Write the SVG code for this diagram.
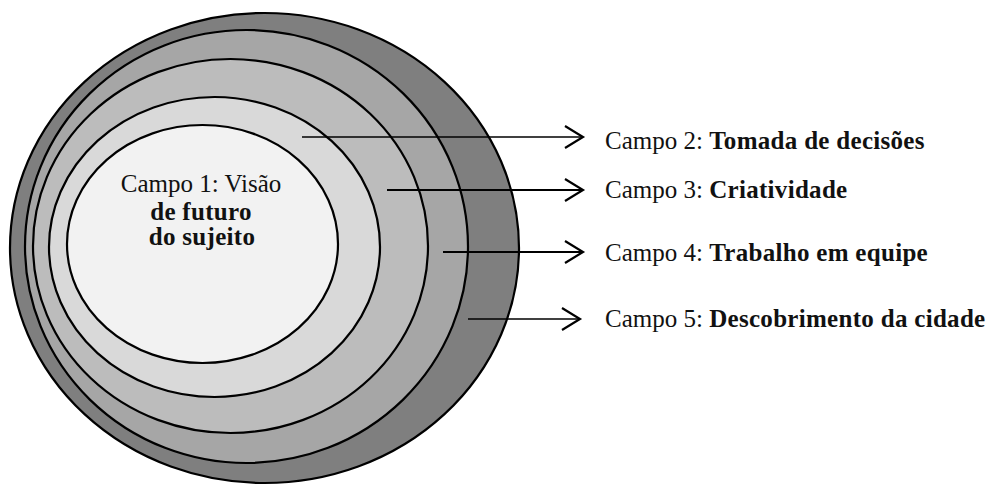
<svg xmlns="http://www.w3.org/2000/svg" width="987" height="488" viewBox="0 0 987 488">
<defs>
<style>
.ring{stroke:#000;stroke-width:2.2}
.lbl{font-family:"Liberation Serif","Times New Roman",serif;font-size:25px;fill:#111}
.b{font-weight:bold;letter-spacing:0.3px}
.conn{stroke:#000;fill:none}
</style>
<marker id="arr" markerUnits="userSpaceOnUse" markerWidth="24" markerHeight="28" refX="19" refY="12" orient="auto">
<path d="M1,1 L19,12 L1,23" fill="none" stroke="#000" stroke-width="2.2"/>
</marker>
</defs>
<rect width="987" height="488" fill="#fff"/>
<g id="campo5">
<ellipse class="ring" cx="264.5" cy="248" rx="254.5" ry="235" fill="#7f7f7f"/>
</g>
<g id="campo4">
<ellipse class="ring" cx="246.5" cy="246.5" rx="221.5" ry="216.5" fill="#a6a6a6"/>
</g>
<g id="campo3">
<ellipse class="ring" cx="230.5" cy="246" rx="197.5" ry="187" fill="#bcbcbc"/>
</g>
<g id="campo2">
<ellipse class="ring" cx="214.5" cy="247" rx="165.5" ry="150" fill="#d9d9d9"/>
</g>
<g id="campo1">
<ellipse class="ring" cx="202.5" cy="244" rx="135.5" ry="119" fill="#f2f2f2"/>
<text class="lbl" x="201" y="192" text-anchor="middle">Campo 1: Visão</text>
<text class="lbl b" x="201" y="220" text-anchor="middle">de futuro</text>
<text class="lbl b" x="202" y="245" text-anchor="middle">do sujeito</text>
</g>
<g id="connectors">
<line class="conn" x1="302" y1="137" x2="583" y2="137" stroke-width="1.6" marker-end="url(#arr)"/>
<line class="conn" x1="387" y1="190" x2="583" y2="190" stroke-width="2" marker-end="url(#arr)"/>
<line class="conn" x1="443" y1="252" x2="583" y2="252" stroke-width="2" marker-end="url(#arr)"/>
<line class="conn" x1="468" y1="319" x2="580" y2="319" stroke-width="1.6" marker-end="url(#arr)"/>
</g>
<g id="label2"><text class="lbl" x="605" y="149">Campo 2: <tspan class="b">Tomada de decisões</tspan></text></g>
<g id="label3"><text class="lbl" x="605" y="198">Campo 3: <tspan class="b">Criatividade</tspan></text></g>
<g id="label4"><text class="lbl" x="605" y="261">Campo 4: <tspan class="b">Trabalho em equipe</tspan></text></g>
<g id="label5"><text class="lbl" x="605" y="327">Campo 5: <tspan class="b">Descobrimento da cidade</tspan></text></g>
</svg>
